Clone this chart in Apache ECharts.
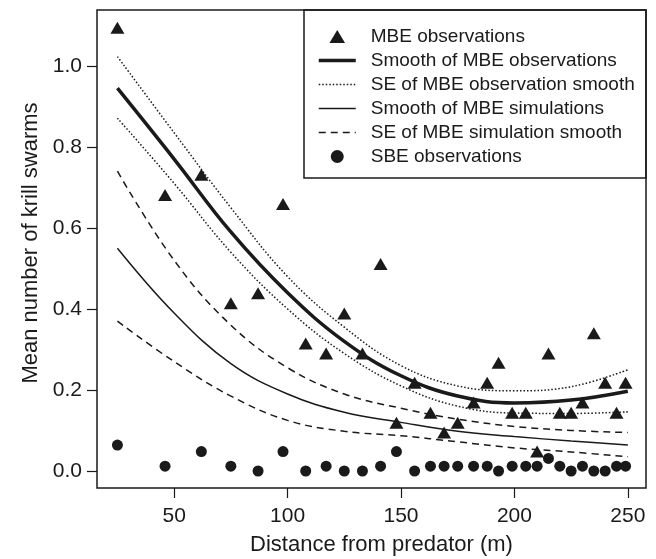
<!DOCTYPE html>
<html>
<head>
<meta charset="utf-8">
<script src="https://cdn.jsdelivr.net/npm/echarts@6/dist/echarts.min.js"></script>
<style>
  html, body { margin: 0; padding: 0; background: #fff; }
  #chart { width: 656px; height: 559px; }
</style>
</head>
<body>
<div id="chart"></div>
<script>
// distances (m) of the observed points
let distances = [25, 46, 62, 75, 87, 98, 108, 117, 125, 133, 141, 148, 156, 163, 169,
    175, 182, 188, 193, 199, 205, 210, 215, 220, 225, 230, 235, 240, 245, 249];
// MBE observations (triangles)
let mbeObs = [1.094, 0.681, 0.731, 0.414, 0.439, 0.659, 0.315, 0.29, 0.389, 0.29, 0.511,
    0.119, 0.218, 0.144, 0.095, 0.119, 0.169, 0.218, 0.267, 0.144, 0.144, 0.048, 0.29,
    0.144, 0.144, 0.169, 0.34, 0.218, 0.144, 0.218];
// SBE observations (circles)
let sbeObs = [0.064, 0.012, 0.048, 0.012, 0, 0.048, 0, 0.012, 0, 0, 0.012, 0.048, 0, 0.012,
    0.012, 0.012, 0.012, 0.012, 0, 0.012, 0.012, 0.012, 0.031, 0.012, 0, 0.012, 0, 0, 0.012, 0.012];

// smooth curves
let smoothX = [25, 50, 75, 100, 125, 150, 175, 200, 225, 250];
let obsSmooth = [0.945, 0.77, 0.59, 0.44, 0.32, 0.235, 0.185, 0.168, 0.175, 0.197];
let obsSeUpper = [1.023, 0.835, 0.65, 0.48, 0.355, 0.26, 0.21, 0.198, 0.208, 0.25];
let obsSeLower = [0.871, 0.71, 0.54, 0.40, 0.29, 0.21, 0.16, 0.143, 0.142, 0.146];
let simSmooth = [0.55, 0.39, 0.265, 0.19, 0.145, 0.12, 0.098, 0.085, 0.074, 0.064];
let simSeUpper = [0.74, 0.52, 0.36, 0.255, 0.19, 0.155, 0.128, 0.11, 0.1, 0.095];
let simSeLower = [0.37, 0.27, 0.185, 0.125, 0.098, 0.087, 0.072, 0.057, 0.047, 0.035];

let xTicks = [50, 100, 150, 200, 250];
let yTicks = [0, 0.2, 0.4, 0.6, 0.8, 1.0];

let ink = '#1a1a1a';
let font = 'Liberation Sans';

function pairs(xs, ys) {
    return xs.map(function (x, i) { return [x, ys[i]]; });
}

function curve(name, ys, width, type) {
    return {
        name: name,
        type: 'line',
        data: pairs(smoothX, ys),
        smooth: 0.4,
        symbol: 'none',
        lineStyle: {color: ink, width: width, type: type},
        itemStyle: {color: ink},
        z: 2
    };
}

// legend entries for lines: hide the dot ECharts puts in the middle
function lineEntry(name, width) {
    return {
        name: name,
        itemStyle: {opacity: 0, color: 'rgba(0,0,0,0)', borderWidth: 0},
        lineStyle: {width: width}
    };
}

let chart = echarts.init(document.getElementById('chart'), null, {renderer: 'canvas'});

let option = {
    animation: false,
    backgroundColor: '#fff',
    grid: {
        left: 97, right: 10, top: 10, bottom: 71,
        outerBoundsMode: 'none',
        show: true, borderColor: ink, borderWidth: 1.5
    },
    xAxis: {
        type: 'value',
        min: 16, max: 258,
        name: 'Distance from predator (m)',
        nameLocation: 'middle',
        nameGap: 46,
        nameTextStyle: {fontFamily: font, fontSize: 22, color: ink, padding: [0, 0, 0, 20]},
        axisLine: {show: false, onZero: false},
        axisTick: {show: true, length: 10, inside: false, customValues: xTicks,
            lineStyle: {color: ink, width: 1.2}},
        axisLabel: {customValues: xTicks, fontFamily: font, fontSize: 21, color: ink, margin: 18},
        splitLine: {show: false}
    },
    yAxis: {
        type: 'value',
        min: -0.042, max: 1.138,
        name: 'Mean number of krill swarms',
        nameLocation: 'middle',
        nameGap: 52,
        nameTextStyle: {fontFamily: font, fontSize: 22, color: ink, padding: [0, 0, 0, 12]},
        axisLine: {show: false, onZero: false},
        axisTick: {show: true, length: 10, customValues: yTicks,
            lineStyle: {color: ink, width: 1.2}},
        axisLabel: {customValues: yTicks, fontFamily: font, fontSize: 21, color: ink, margin: 15,
            formatter: function (v) { return v.toFixed(1); }},
        splitLine: {show: false}
    },
    legend: {
        orient: 'vertical',
        left: 312, top: 22,
        itemWidth: 37, itemHeight: 13,
        itemGap: 5,
        symbolKeepAspect: true,
        textStyle: {fontFamily: font, fontSize: 19, color: ink, padding: [0, 0, 0, 10]},
        data: [
            {name: 'MBE observations', icon: 'path://M6,0 L12,10 L0,10 Z'},
            lineEntry('Smooth of MBE observations', 3.5),
            lineEntry('SE of MBE observation smooth', 1.5),
            lineEntry('Smooth of MBE simulations', 1.5),
            lineEntry('SE of MBE simulation smooth', 1.5),
            {name: 'SBE observations', icon: 'circle', itemStyle: {opacity: 1}}
        ]
    },
    graphic: [{
        type: 'rect',
        shape: {x: 304, y: 10, width: 342, height: 168},
        style: {fill: 'none', stroke: ink, lineWidth: 1.5},
        z: 10
    }],
    series: [
        curve('Smooth of MBE observations', obsSmooth, 3.5, 'solid'),
        curve('SE of MBE observation smooth', obsSeUpper, 1.5, [1.5, 2]),
        curve('SE of MBE observation smooth', obsSeLower, 1.5, [1.5, 2]),
        curve('Smooth of MBE simulations', simSmooth, 1.5, 'solid'),
        curve('SE of MBE simulation smooth', simSeUpper, 1.5, [7, 5]),
        curve('SE of MBE simulation smooth', simSeLower, 1.5, [7, 5]),
        {
            name: 'MBE observations',
            type: 'scatter',
            symbol: 'triangle',
            symbolSize: [14, 12],
            data: pairs(distances, mbeObs),
            itemStyle: {color: ink, opacity: 1},
            z: 5
        },
        {
            name: 'SBE observations',
            type: 'scatter',
            symbol: 'circle',
            symbolSize: 11,
            data: pairs(distances, sbeObs),
            itemStyle: {color: ink, opacity: 1},
            z: 5
        }
    ]
};

chart.setOption(option);
</script>
</body>
</html>
